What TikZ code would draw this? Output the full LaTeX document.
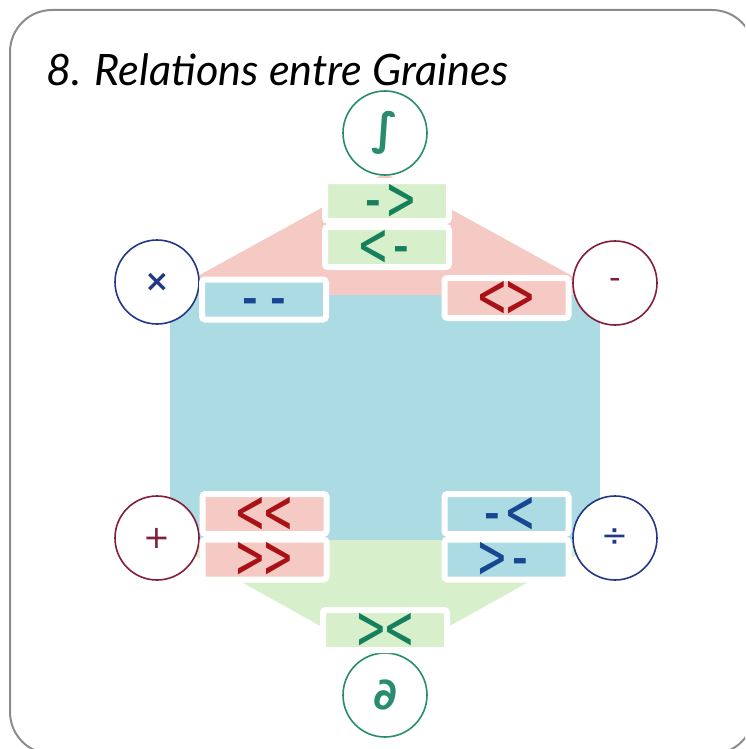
\documentclass[tikz,border=0pt]{standalone}
\usepackage{fontspec}
\setmainfont{Lato}
\newfontfamily\monofont{DejaVu Sans Mono}
\newfontfamily\symfont{DejaVu Sans}
\definecolor{bluefill}{RGB}{172,219,227}
\definecolor{redfill}{RGB}{245,202,196}
\definecolor{greenfill}{RGB}{216,239,203}
\definecolor{greentxt}{RGB}{22,128,92}
\definecolor{bluetxt}{RGB}{22,72,145}
\definecolor{redtxt}{RGB}{168,18,22}
\definecolor{cgreen}{RGB}{40,140,110}
\definecolor{cblue}{RGB}{35,55,135}
\definecolor{cred}{RGB}{130,30,55}
\definecolor{framegray}{RGB}{140,140,140}
\newcommand{\opglyph}[1]{\raisebox{-20pt}[0pt][0pt]{\scalebox{1}[1.45]{#1}}}
\begin{document}
\begin{tikzpicture}[x=1pt,y=-1pt,
  opbox/.style={rectangle, draw=white, line width=6pt, minimum width=124pt,
    minimum height=40pt, rounded corners=3pt, inner sep=0pt,
    text height=0pt, text depth=0pt,
    font=\monofont\fontsize{46}{46}\selectfont},
  seed/.style={circle, draw, line width=1.6pt, fill=white, minimum size=84pt,
    inner sep=0pt, font=\symfont\fontsize{32}{32}\selectfont},
  bigsym/.style={font=\symfont\bfseries\fontsize{44}{44}\selectfont},
  boldsym/.style={font=\symfont\bfseries\fontsize{30}{30}\selectfont},
  gbox/.style={opbox, fill=greenfill, text=greentxt},
  bbox/.style={opbox, fill=bluefill, text=bluetxt},
  rbox/.style={opbox, fill=redfill, text=redtxt}]
\useasboundingbox (0,0) rectangle (745,749);
\clip (0,0) rectangle (745,749);
% frame
\draw[framegray, line width=2pt, rounded corners=42pt] (10,10) rectangle (754,754);
% title
\node[anchor=base west, inner sep=0pt] (title) at (46,86)
  {\resizebox{462pt}{!}{\itshape 8. Relations entre Graines}};
% background regions
\fill[redfill] (385,173) -- (156,299) -- (614,299) -- cycle;
\fill[greenfill] (166,540) -- (604,540) -- (385,662) -- cycle;
\fill[bluefill] (170,295) rectangle (600,540);
% seeds
\node[seed, bigsym, draw=cgreen, text=cgreen] (integ) at (385,133) {∫};
\node[seed, boldsym, draw=cblue, text=cblue] (times) at (157,282) {×};
\node[seed, draw=cred, text=cred] (minus) at (615,283) {-};
\node[seed, draw=cred, text=cred] (plus) at (157,538) {+};
\node[seed, draw=cblue, text=cblue] (divide) at (615,538) {÷};
\node[seed, bigsym, draw=cgreen, text=cgreen] (partial) at (385,695) {∂};
% relation boxes
\node[gbox] (ra) at (387,201) {\opglyph{{-}>}};
\node[gbox] (rb) at (387,247) {\opglyph{<{-}}};
\node[bbox] (rc) at (264,299.5) {\opglyph{{-}{-}}};
\node[rbox] (rd) at (506.5,298) {\opglyph{<>}};
\node[rbox] (re) at (264.5,514) {\opglyph{<<}};
\node[rbox] (rf) at (264.5,559.5) {\opglyph{>>}};
\node[bbox] (rg) at (506.5,514) {\opglyph{{-}<}};
\node[bbox] (rh) at (506.5,559.5) {\opglyph{>{-}}};
\node[gbox] (ri) at (385,630) {\opglyph{><}};
\end{tikzpicture}
\end{document}
